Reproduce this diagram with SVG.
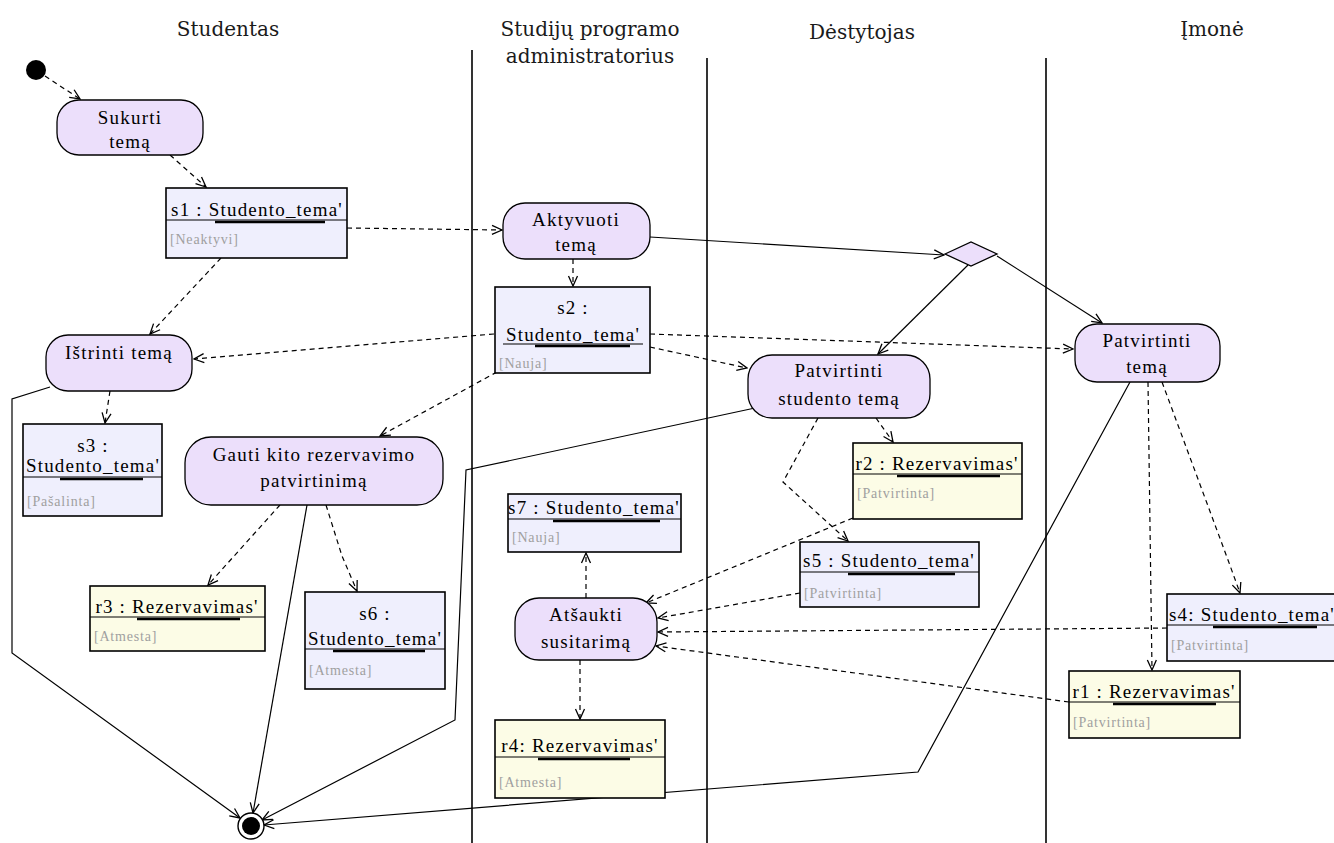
<svg xmlns="http://www.w3.org/2000/svg" width="1334" height="843" viewBox="0 0 1334 843">
  <style>
    .act { fill: #ecdffb; stroke: #000; stroke-width: 1.3; }
    .obj { fill: #efeffd; stroke: #000; stroke-width: 1.6; }
    .objy { fill: #fcfce6; stroke: #000; stroke-width: 1.6; }
    .t { font-family: "Liberation Serif", "Times New Roman", serif; font-size: 19px; letter-spacing: 1.2px; fill: #000; text-anchor: middle; }
    .ts { font-family: "Liberation Serif", "Times New Roman", serif; font-size: 19px; letter-spacing: 1.2px; fill: #000; }
    .st { font-family: "Liberation Serif", "Times New Roman", serif; font-size: 14px; letter-spacing: 0.8px; fill: #a0a0a0; }
    .hd { font-family: "DejaVu Serif", "Liberation Serif", serif; font-size: 20px; fill: #1a1a1a; text-anchor: middle; }
    .sep { stroke: #000; stroke-width: 1.2; }
    .bar { stroke: #000; stroke-width: 2.6; }
    .lane { stroke: #000; stroke-width: 1.6; }
    .c { fill: none; stroke: #000; stroke-width: 1.2; marker-end: url(#arr); }
    .d { stroke-dasharray: 5 4; }
  </style>
  <defs>
    <marker id="arr" viewBox="0 0 12 12" refX="11" refY="6" markerWidth="12" markerHeight="12" markerUnits="userSpaceOnUse" orient="auto">
      <path d="M1,1.5 L11,6 L1,10.5" fill="none" stroke="#000" stroke-width="1.3"/>
    </marker>
  </defs>

  <rect width="1334" height="843" fill="#fff"/>

  <!-- swimlanes -->
  <g id="lanes">
    <line class="lane" x1="472" y1="50" x2="472" y2="843"/>
    <line class="lane" x1="707" y1="58" x2="707" y2="843"/>
    <line class="lane" x1="1046" y1="58" x2="1046" y2="843"/>
    <text class="hd" x="228" y="36">Studentas</text>
    <text class="hd" x="590" y="36">Studijų programo</text>
    <text class="hd" x="590" y="63">administratorius</text>
    <text class="hd" x="862" y="39">Dėstytojas</text>
    <text class="hd" x="1212" y="36">Įmonė</text>
  </g>

  <!-- connectors -->
  <g id="connectors">
    <line class="c d" x1="45" y1="76" x2="80" y2="99"/>
    <line class="c d" x1="170" y1="155" x2="206" y2="187"/>
    <line class="c d" x1="347" y1="228" x2="502" y2="230"/>
    <line class="c d" x1="221" y1="258" x2="150" y2="334"/>
    <line class="c d" x1="573" y1="259" x2="573" y2="286"/>
    <line class="c" x1="650" y1="237" x2="944" y2="255"/>
    <line class="c" x1="968" y1="265" x2="878" y2="354"/>
    <line class="c" x1="997" y1="256" x2="1102" y2="323"/>
    <line class="c d" x1="494" y1="334" x2="194" y2="359"/>
    <line class="c d" x1="497" y1="372" x2="380" y2="436"/>
    <line class="c d" x1="650" y1="334" x2="1073" y2="349"/>
    <line class="c d" x1="650" y1="347" x2="747" y2="368"/>
    <line class="c d" x1="110" y1="391" x2="105" y2="423"/>
    <polyline class="c" points="50,387 12,399 12,653 240,818"/>
    <line class="c" x1="307" y1="505" x2="253" y2="813"/>
    <polyline class="c" points="755,408 466,470 455,720 262,820"/>
    <polyline class="c" points="1130,382 918,772 264,825"/>
    <line class="c d" x1="280" y1="505" x2="208" y2="585"/>
    <polyline class="c d" points="326,505 342,556 357,591"/>
    <line class="c d" x1="876" y1="418" x2="893" y2="442"/>
    <polyline class="c d" points="818,418 783,482 848,541"/>
    <line class="c d" x1="1148" y1="382" x2="1152" y2="670"/>
    <polyline class="c d" points="1162,382 1228,560 1240,593"/>
    <line class="c d" x1="853" y1="518" x2="646" y2="603"/>
    <line class="c d" x1="800" y1="593" x2="658" y2="618"/>
    <line class="c d" x1="1167" y1="628" x2="658" y2="632"/>
    <line class="c d" x1="1069" y1="702" x2="656" y2="646"/>
    <line class="c d" x1="586" y1="598" x2="586" y2="553"/>
    <line class="c d" x1="580" y1="660" x2="580" y2="719"/>
  </g>

  <!-- start / end / decision -->
  <g id="start"><circle cx="36" cy="70" r="10" fill="#000"/></g>
  <g id="end">
    <circle cx="251" cy="826" r="13" fill="#fff" stroke="#000" stroke-width="1.4"/>
    <circle cx="251" cy="826" r="9" fill="#000"/>
  </g>
  <g id="decision"><polygon class="act" points="945,254 971,242 997,254 971,266"/></g>

  <!-- activities -->
  <g id="sukurti">
    <rect class="act" x="57" y="100" width="146" height="55" rx="22"/>
    <text class="t" x="130" y="124">Sukurti</text>
    <text class="t" x="130" y="148">temą</text>
  </g>
  <g id="aktyvuoti">
    <rect class="act" x="503" y="203" width="147" height="56" rx="22"/>
    <text class="t" x="576" y="226">Aktyvuoti</text>
    <text class="t" x="576" y="251">temą</text>
  </g>
  <g id="istrinti">
    <rect class="act" x="46" y="335" width="146" height="56" rx="22"/>
    <text class="t" x="119" y="359">Ištrinti temą</text>
  </g>
  <g id="gauti">
    <rect class="act" x="185" y="437" width="258" height="68" rx="26"/>
    <text class="t" x="314" y="461">Gauti kito rezervavimo</text>
    <text class="t" x="314" y="487">patvirtinimą</text>
  </g>
  <g id="patvirtinti-studento">
    <rect class="act" x="748" y="355" width="182" height="63" rx="24"/>
    <text class="t" x="839" y="377">Patvirtinti</text>
    <text class="t" x="839" y="405">studento temą</text>
  </g>
  <g id="patvirtinti-tema">
    <rect class="act" x="1075" y="324" width="145" height="58" rx="22"/>
    <text class="t" x="1147" y="347">Patvirtinti</text>
    <text class="t" x="1147" y="373">temą</text>
  </g>
  <g id="atsaukti">
    <rect class="act" x="515" y="598" width="142" height="62" rx="24"/>
    <text class="t" x="586" y="621">Atšaukti</text>
    <text class="t" x="586" y="648">susitarimą</text>
  </g>

  <!-- object flows -->
  <g id="s1">
    <rect class="obj" x="166" y="188" width="181" height="70"/>
    <text class="t" x="257" y="216">s1 : Studento_tema'</text>
    <line class="sep" x1="166" y1="220" x2="347" y2="220"/>
    <line class="bar" x1="215" y1="222" x2="325" y2="222"/>
    <text class="st" x="170" y="244">[Neaktyvi]</text>
  </g>
  <g id="s2">
    <rect class="obj" x="495" y="287" width="155" height="86"/>
    <text class="t" x="573" y="314">s2 :</text>
    <text class="t" x="573" y="341">Studento_tema'</text>
    <line class="sep" x1="503" y1="344" x2="643" y2="344"/>
    <line class="bar" x1="535" y1="346" x2="630" y2="346"/>
    <text class="st" x="499" y="368">[Nauja]</text>
  </g>
  <g id="s3">
    <rect class="obj" x="23" y="424" width="139" height="92"/>
    <text class="t" x="93" y="452">s3 :</text>
    <text class="t" x="93" y="472">Studento_tema'</text>
    <line class="sep" x1="23" y1="477" x2="162" y2="477"/>
    <line class="bar" x1="60" y1="479" x2="143" y2="479"/>
    <text class="st" x="27" y="506">[Pašalinta]</text>
  </g>
  <g id="s4">
    <rect class="obj" x="1167" y="594" width="172" height="67"/>
    <text class="ts" x="1169" y="621">s4: Studento_tema'</text>
    <line class="sep" x1="1167" y1="625" x2="1334" y2="625"/>
    <line class="bar" x1="1213" y1="627" x2="1317" y2="627"/>
    <text class="st" x="1171" y="650">[Patvirtinta]</text>
  </g>
  <g id="s5">
    <rect class="obj" x="800" y="542" width="179" height="65"/>
    <text class="t" x="889" y="567">s5 : Studento_tema'</text>
    <line class="sep" x1="800" y1="572" x2="979" y2="572"/>
    <line class="bar" x1="848" y1="574" x2="955" y2="574"/>
    <text class="st" x="804" y="598">[Patvirtinta]</text>
  </g>
  <g id="s6">
    <rect class="obj" x="305" y="592" width="140" height="97"/>
    <text class="t" x="375" y="620">s6 :</text>
    <text class="t" x="375" y="645">Studento_tema'</text>
    <line class="sep" x1="305" y1="649" x2="445" y2="649"/>
    <line class="bar" x1="333" y1="651" x2="425" y2="651"/>
    <text class="st" x="309" y="675">[Atmesta]</text>
  </g>
  <g id="s7">
    <rect class="obj" x="508" y="494" width="173" height="58"/>
    <text class="t" x="594" y="514">s7 : Studento_tema'</text>
    <line class="sep" x1="508" y1="519" x2="681" y2="519"/>
    <line class="bar" x1="553" y1="521" x2="660" y2="521"/>
    <text class="st" x="512" y="542">[Nauja]</text>
  </g>
  <g id="r1">
    <rect class="objy" x="1069" y="671" width="171" height="67"/>
    <text class="t" x="1154" y="698">r1 : Rezervavimas'</text>
    <line class="sep" x1="1069" y1="702" x2="1240" y2="702"/>
    <line class="bar" x1="1113" y1="704" x2="1216" y2="704"/>
    <text class="st" x="1073" y="727">[Patvirtinta]</text>
  </g>
  <g id="r2">
    <rect class="objy" x="853" y="443" width="169" height="76"/>
    <text class="t" x="937" y="470">r2 : Rezervavimas'</text>
    <line class="sep" x1="853" y1="474" x2="1022" y2="474"/>
    <line class="bar" x1="897" y1="476" x2="1000" y2="476"/>
    <text class="st" x="857" y="498">[Patvirtinta]</text>
  </g>
  <g id="r3">
    <rect class="objy" x="90" y="586" width="175" height="65"/>
    <text class="t" x="177" y="613">r3 : Rezervavimas'</text>
    <line class="sep" x1="90" y1="617" x2="265" y2="617"/>
    <line class="bar" x1="137" y1="619" x2="240" y2="619"/>
    <text class="st" x="94" y="641">[Atmesta]</text>
  </g>
  <g id="r4">
    <rect class="objy" x="495" y="720" width="170" height="78"/>
    <text class="t" x="580" y="752">r4: Rezervavimas'</text>
    <line class="sep" x1="495" y1="757" x2="665" y2="757"/>
    <line class="bar" x1="538" y1="759" x2="630" y2="759"/>
    <text class="st" x="499" y="787">[Atmesta]</text>
  </g>
</svg>
